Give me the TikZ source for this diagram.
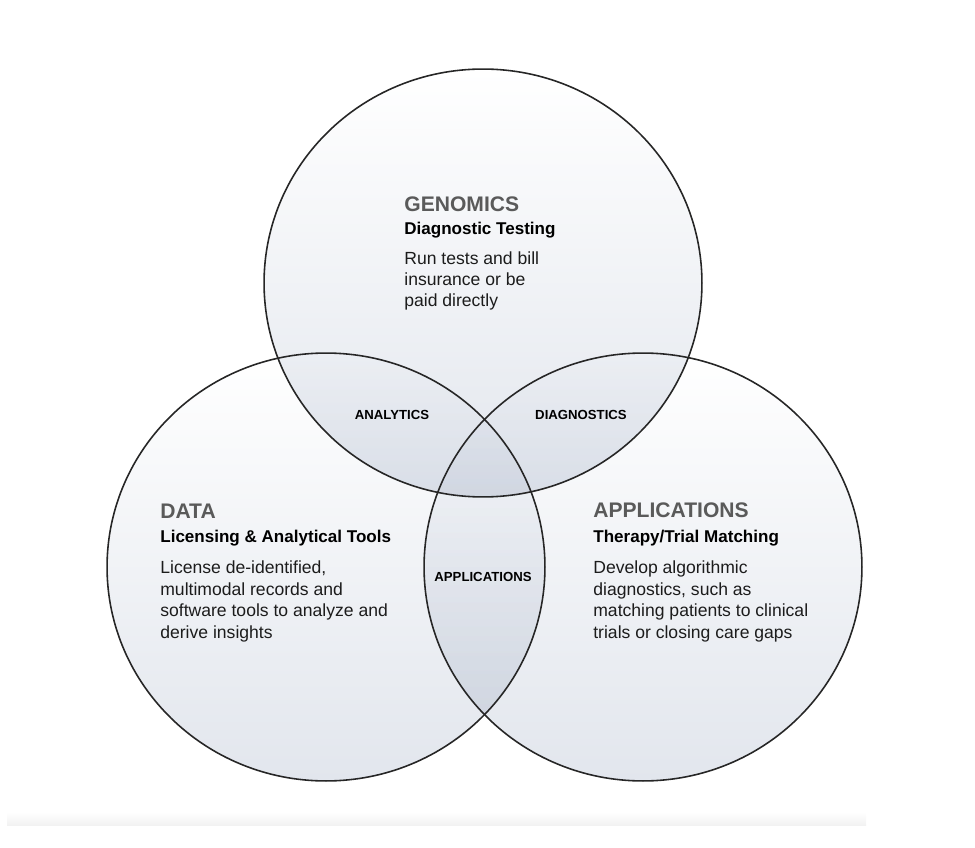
\documentclass[tikz,border=0pt]{standalone}
\usepackage{fontspec}
\setmainfont{Liberation Sans}
\usetikzlibrary{positioning}

\definecolor{vennbot}{RGB}{226,230,237}
\definecolor{vennmid}{RGB}{245,247,250}
\definecolor{headgray}{RGB}{90,90,90}
\definecolor{bodyblack}{RGB}{28,28,28}

\begin{document}
\begin{tikzpicture}[x=0.02cm, y=-0.02cm,
      venn/.style={top color=white, middle color=vennmid, bottom color=vennbot},
      rim/.style={draw=black!85, line width=0.9pt},
      head/.style={anchor=base west, inner sep=0pt, text=headgray, font=\fontsize{12}{14}\selectfont\bfseries},
      sub/.style={anchor=base west, inner sep=0pt, font=\fontsize{9.7}{12}\selectfont\bfseries},
      body/.style={anchor=base west, inner sep=0pt, align=left, text=bodyblack, font=\fontsize{10}{12.2}\selectfont},
      tag/.style={inner sep=0pt, font=\fontsize{7.5}{9}\selectfont\bfseries}
    ]
    \useasboundingbox (0,0) rectangle (975,848);

    % Circles
    \coordinate (top) at (483,283);
    \coordinate (left) at (326,567);
    \coordinate (right) at (643,567);
    \shade[top color=white, bottom color=black!5] (7,812) rectangle (866,825);
    \begin{scope}[blend group=multiply]
      \foreach \c in {top,left,right}
        \shade[venn] (\c) ellipse [x radius=4.38cm, y radius=4.28cm];
    \end{scope}
    \foreach \c in {top,left,right}
      \draw[rim] (\c) ellipse [x radius=4.38cm, y radius=4.28cm];

    % Nodes (body text is set on its last line)
    \node[head] (genomics) at (404,212) {GENOMICS};
    \node[sub] (testing) at (404,235) {Diagnostic Testing};
    \node[body] (testingtxt) at (404,307) {Run tests and bill\\insurance or be\\paid directly};

    \node[head] (data) at (160,518) {DATA};
    \node[sub] (licensing) at (160,542) {Licensing \& Analytical Tools};
    \node[body] (licensingtxt) at (160,638) {License de-identified,\\multimodal records and\\software tools to analyze and\\derive insights};

    \node[head] (apps) at (593,517) {APPLICATIONS};
    \node[sub] (matching) at (593,542) {Therapy/Trial Matching};
    \node[body] (matchingtxt) at (593,638) {Develop algorithmic\\diagnostics, such as\\matching patients to clinical\\trials or closing care gaps};

    \node[tag] (analytics) at (392,415) {ANALYTICS};
    \node[tag] (diagnostics) at (581,415) {DIAGNOSTICS};
    \node[tag] (applications) at (483,577) {APPLICATIONS};

    \end{tikzpicture}
\end{document}
